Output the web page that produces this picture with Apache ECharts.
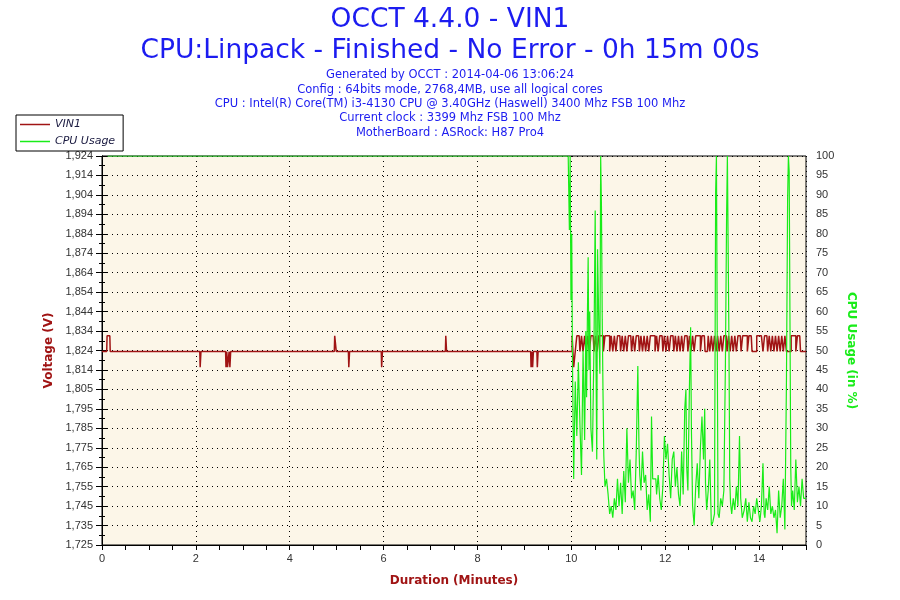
<!DOCTYPE html>
<html>
<head>
<meta charset="utf-8">
<script src="https://cdn.jsdelivr.net/npm/echarts@6/dist/echarts.min.js"></script>
<style>html,body{margin:0;padding:0;background:#fff}#c{width:900px;height:600px}</style>
</head>
<body>
<div id="c"></div>
<script>
const TITLE = 'OCCT 4.4.0 - VIN1';
const SUBTITLE = 'CPU:Linpack - Finished - No Error - 0h 15m 00s';
const INFO_LINES = [
  'Generated by OCCT : 2014-04-06 13:06:24',
  'Config : 64bits mode, 2768,4MB, use all logical cores',
  'CPU : Intel(R) Core(TM) i3-4130 CPU @ 3.40GHz (Haswell) 3400 Mhz FSB 100 Mhz',
  'Current clock : 3399 Mhz FSB 100 Mhz',
  'MotherBoard : ASRock: H87 Pro4'
];
const SERIES_NAMES = ['VIN1', 'CPU Usage'];
const VOLT_MIN = 1.725;
const VOLT_MAX = 1.924;
const VOLT_TICK_LABELS = ['1,725','1,735','1,745','1,755','1,765','1,775','1,785','1,795','1,805','1,814',
  '1,824','1,834','1,844','1,854','1,864','1,874','1,884','1,894','1,904','1,914','1,924'];
const DURATION_MAX_S = 900;

// VIN1 (volts) vs time (seconds)
const VIN1_IDLE = [
  [0,1.824],[6,1.824],[7,1.832],[10,1.832],[11,1.824],
  [125,1.824],[126,1.816],[127,1.824],
  [158,1.824],[159,1.816],[160,1.824],[161,1.816],[162,1.816],[163,1.824],[164,1.816],[165,1.824],
  [297,1.824],[298,1.832],[299,1.832],[300,1.824],
  [315,1.824],[316,1.816],[317,1.824],
  [357,1.824],[358,1.816],[359,1.824],
  [439,1.824],[440,1.832],[441,1.824],
  [548,1.824],[549,1.816],[550,1.824],[551,1.816],[552,1.824],
  [556,1.824],[557,1.816],[558,1.824],[598,1.824]
];
// VIN1 after 600 s, one value every 2 s
const VIN1_LOAD_START = 600;
const VIN1_LOAD = [
  1.824,1.832,1.816,1.824,1.832,1.832,1.824,1.832,1.824,1.832,
  1.824,1.832,1.824,1.832,1.832,1.824,1.832,1.824,1.832,1.832,
  1.832,1.824,1.832,1.832,1.832,1.824,1.832,1.824,1.832,1.824,
  1.832,1.832,1.824,1.832,1.824,1.832,1.824,1.832,1.832,1.824,
  1.832,1.824,1.832,1.832,1.824,1.832,1.824,1.832,1.824,1.832,
  1.824,1.832,1.832,1.832,1.824,1.832,1.824,1.832,1.832,1.824,
  1.832,1.824,1.832,1.824,1.832,1.832,1.824,1.832,1.824,1.832,
  1.824,1.832,1.824,1.832,1.832,1.824,1.832,1.824,1.832,1.824,
  1.832,1.832,1.832,1.824,1.832,1.832,1.824,1.824,1.832,1.824,
  1.832,1.824,1.832,1.824,1.832,1.824,1.832,1.824,1.832,1.832,
  1.824,1.832,1.824,1.832,1.824,1.832,1.824,1.832,1.832,1.824,
  1.832,1.832,1.832,1.824,1.832,1.832,1.824,1.824,1.824,1.832,
  1.832,1.832,1.832,1.824,1.832,1.832,1.824,1.832,1.824,1.832,
  1.824,1.832,1.824,1.832,1.824,1.832,1.824,1.832,1.824,1.824,
  1.824,1.832,1.832,1.832,1.824,1.832,1.832,1.824,1.824,1.824,
  1.824
];
// CPU usage (%) vs time (seconds)
const CPU_USAGE = [
  [7,100],[596,100],[597,100],[598,81],[599,100],[600,63],[601,80],[602,46],[604,17],[606,42],
  [608,28],[610,47],[612,31],[614,18],[616,50],[618,27],[619,55],[620,38],[621,58],[622,74],
  [623,45],[624,60],[626,30],[628,24],[630,52],[631,86],[632,48],[633,22],[634,76],[636,58],
  [637,44],[638,100],[639,87],[640,58],[641,39],[642,23],[644,15],[646,17],[648,13],[650,8],
  [652,10],[654,7],[656,12],[658,9],[660,17],[662,10],[664,16],[666,8],[668,19],[670,11],
  [672,30],[674,16],[676,22],[678,12],[680,14],[682,9],[684,24],[686,46],[687,25],[688,18],
  [690,14],[692,24],[694,16],[696,18],[698,9],[700,13],[702,6],[703,33],[705,17],[708,17],
  [710,13],[712,18],[714,12],[716,9],[718,15],[720,28],[722,22],[724,26],[726,18],[728,12],
  [730,22],[732,24],[734,15],[736,20],[738,13],[740,10],[742,24],[744,13],[746,35],[747,40],
  [748,20],[750,14],[752,41],[753,56],[754,30],[756,10],[758,5],[760,15],[762,21],[764,12],
  [766,25],[768,33],[770,22],[771,35],[772,16],[774,9],[776,14],[778,22],[780,5],[782,6],
  [784,8],[785,91],[786,100],[787,55],[788,8],[790,7],[792,12],[794,10],[796,14],[798,47],
  [799,85],[800,100],[801,100],[802,52],[803,17],[804,11],[806,8],[808,12],[810,9],[812,15],
  [814,10],[816,28],[817,12],[820,7],[822,9],[824,12],[826,6],[828,11],[830,7],[832,6],
  [834,10],[836,8],[838,12],[840,9],[842,6],[844,10],[846,21],[847,8],[848,7],[850,12],
  [852,9],[854,15],[856,8],[858,10],[860,7],[862,9],[864,3],[866,14],[868,7],[870,10],
  [872,17],[874,4],[876,42],[877,89],[878,100],[879,96],[880,58],[881,20],[882,10],[884,14],
  [886,9],[888,22],[890,11],[892,15],[894,10],[896,17],[898,12],[900,12]
];

const VOLT_STEP = (VOLT_MAX - VOLT_MIN) / (VOLT_TICK_LABELS.length - 1);
const voltTicks = VOLT_TICK_LABELS.map((_, i) => VOLT_MIN + i * VOLT_STEP);
const voltMinor = VOLT_TICK_LABELS.slice(1).map((_, i) => VOLT_MIN + (i + 0.5) * VOLT_STEP);
const vin1Data = VIN1_IDLE.concat(VIN1_LOAD.map((v, i) => [VIN1_LOAD_START + i * 2, v]));

const BLUE = '#1c1cf0';
const DARKRED = '#a01414';
const GREEN = '#19ec19';
const TICKFONT = {fontFamily: 'Liberation Sans, Arial, sans-serif', fontSize: 11, color: '#333'};
const dotted = {color: '#000', type: [1, 4], width: 1};

const titles = [
  {text: TITLE, top: 7, size: 26.5},
  {text: SUBTITLE, top: 38, size: 26.5}
].concat(INFO_LINES.map((t, i) => ({text: t, top: 69.5 + i * 14.3, size: 11.5})));

const chart = echarts.init(document.getElementById('c'));
chart.setOption({
  animation: false,
  backgroundColor: '#fff',
  title: titles.map(t => ({
    text: t.text, left: 'center', top: t.top, padding: 0,
    textStyle: {fontFamily: 'DejaVu Sans, Verdana, sans-serif', fontSize: t.size, fontWeight: 'normal', color: BLUE}
  })),
  legend: {
    data: SERIES_NAMES, orient: 'vertical', left: 16, top: 115,
    padding: [4, 8, 4, 4], itemGap: 6, itemWidth: 30, itemHeight: 1.5, icon: 'rect',
    borderColor: '#000', borderWidth: 1, backgroundColor: '#fff',
    textStyle: {fontFamily: 'DejaVu Sans, Verdana, sans-serif', fontSize: 11, fontStyle: 'italic', color: '#1a1a40'}
  },
  grid: {left: 102, right: 94, top: 156, bottom: 55, show: true, backgroundColor: '#fcf6e8', borderColor: '#000', borderWidth: 1},
  xAxis: [
    {
      type: 'value', min: 0, max: DURATION_MAX_S, interval: 30,
      name: 'Duration (Minutes)', nameLocation: 'middle', nameGap: 30,
      nameTextStyle: {fontFamily: 'DejaVu Sans, Verdana, sans-serif', fontSize: 12, fontWeight: 'bold', color: DARKRED},
      axisLine: {lineStyle: {color: '#000'}},
      axisTick: {length: 5, lineStyle: {color: '#000'}},
      axisLabel: Object.assign({margin: 8, formatter: v => (v % 120 === 0 ? String(v / 60) : '')}, TICKFONT),
      splitLine: {show: false}
    },
    {
      type: 'value', min: 0, max: DURATION_MAX_S, interval: 120, position: 'bottom',
      axisLine: {show: false}, axisTick: {show: false}, axisLabel: {show: false},
      splitLine: {show: true, lineStyle: dotted}
    }
  ],
  yAxis: [
    {
      type: 'value', min: VOLT_MIN, max: VOLT_MAX, position: 'left',
      name: 'Voltage (V)', nameLocation: 'middle', nameGap: 44,
      nameTextStyle: {fontFamily: 'DejaVu Sans, Verdana, sans-serif', fontSize: 12, fontWeight: 'bold', color: DARKRED},
      axisLine: {show: true, lineStyle: {color: '#000'}},
      axisTick: {show: true, length: 6, customValues: voltTicks, lineStyle: {color: '#000'}},
      axisLabel: Object.assign({margin: 9, customValues: voltTicks,
        formatter: v => VOLT_TICK_LABELS[Math.round((v - VOLT_MIN) / VOLT_STEP)] || ''}, TICKFONT),
      splitLine: {show: false}
    },
    {
      type: 'value', min: 0, max: 100, interval: 5, position: 'right',
      name: 'CPU Usage (in %)', nameLocation: 'middle', nameGap: 37, nameRotate: -90,
      nameTextStyle: {fontFamily: 'DejaVu Sans, Verdana, sans-serif', fontSize: 12, fontWeight: 'bold', color: GREEN},
      axisLine: {show: true, lineStyle: {color: '#000'}},
      axisTick: {show: true, length: 5, lineStyle: {color: '#000'}},
      minorTick: {show: true, splitNumber: 2, length: 3, lineStyle: {color: '#000'}},
      axisLabel: Object.assign({margin: 10}, TICKFONT),
      splitLine: {show: true, lineStyle: dotted}
    },
    {
      type: 'value', min: VOLT_MIN, max: VOLT_MAX, position: 'left',
      axisLine: {show: false},
      axisTick: {show: true, length: 3, customValues: voltMinor, lineStyle: {color: '#000'}},
      axisLabel: {show: false}, splitLine: {show: false}
    }
  ],
  series: [
    {
      name: SERIES_NAMES[0], type: 'line', xAxisIndex: 0, yAxisIndex: 0, data: vin1Data,
      showSymbol: false, step: 'middle', color: DARKRED,
      lineStyle: {color: DARKRED, width: 1.5}, z: 2
    },
    {
      name: SERIES_NAMES[1], type: 'line', xAxisIndex: 0, yAxisIndex: 1, data: CPU_USAGE,
      showSymbol: false, step: 'middle', color: GREEN,
      lineStyle: {color: GREEN, width: 1.2}, z: 3
    }
  ]
});
</script>
</body>
</html>
